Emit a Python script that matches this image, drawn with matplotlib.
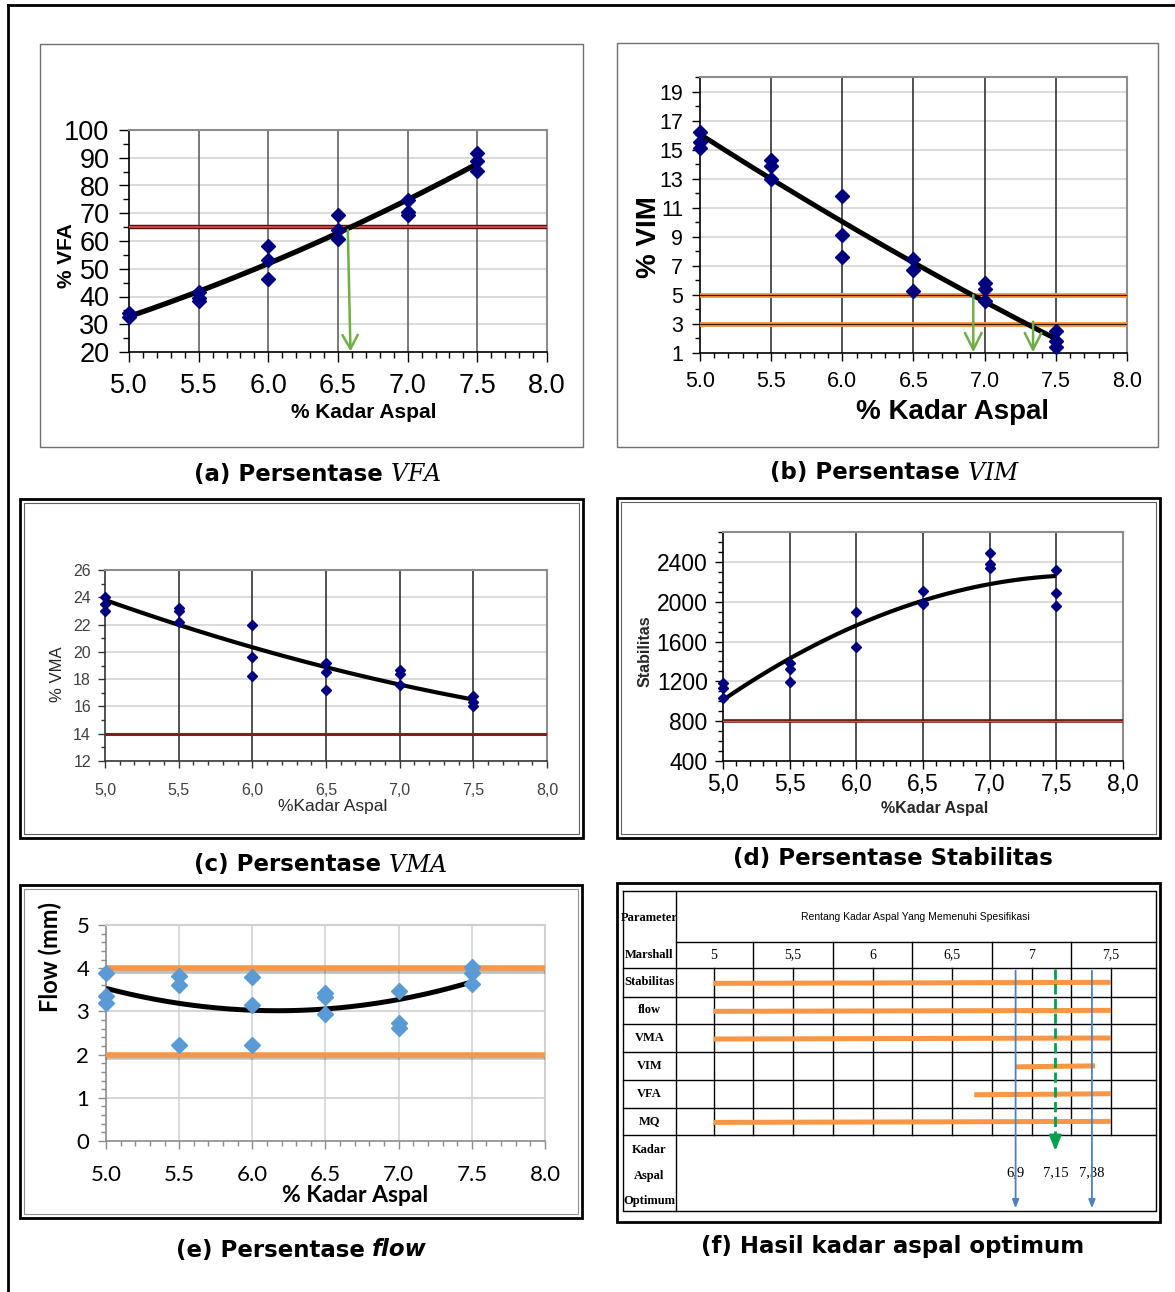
import matplotlib
matplotlib.use("Agg")
import matplotlib.pyplot as plt
import matplotlib.patheffects as pe
import numpy as np
from matplotlib.lines import Line2D
from matplotlib.patches import Rectangle
from matplotlib.ticker import MultipleLocator

plt.rcParams['font.family'] = ['Liberation Sans', 'DejaVu Sans']
plt.rcParams['mathtext.fontset'] = 'dejavuserif'

# ---------------- data ----------------
kadar = [5.0, 5.5, 6.0, 6.5, 7.0, 7.5]
x_ticks = [5.0, 5.5, 6.0, 6.5, 7.0, 7.5, 8.0]

vfa_pts = [[34.2, 32.5], [41.5, 39.3, 38.5], [58.3, 53.3, 46.2],
           [69.5, 64.0, 60.8], [74.7, 70.4, 69.2], [91.6, 88.9, 85.2]]
vfa_trend = [33.0, 41.5, 51.7, 63.2, 75.0, 87.7]
vfa_min = 65
vfa_opt = 6.57

vim_pts = [[16.2, 15.5, 15.1], [14.3, 13.9, 13.0], [11.8, 9.1, 7.6],
           [7.5, 6.7, 5.3], [5.8, 5.4, 4.6], [2.5, 1.8, 1.4]]
vim_trend = [16.0, 13.1, 10.0, 7.2, 4.5, 2.0]
vim_lim = [5, 3]
vim_opt = [6.92, 7.34]

vma_pts = [[24.0, 23.5, 23.0], [23.2, 23.0, 22.2], [22.0, 19.6, 18.2],
           [19.2, 18.5, 17.2], [18.7, 18.4, 17.6], [16.8, 16.3, 16.0]]
vma_trend = [23.8, 22.0, 20.3, 18.9, 17.6, 16.5]
vma_min = 14

stab_pts = [[1180, 1130, 1030], [1380, 1325, 1195], [1900, 1550],
            [2105, 1990, 1980], [2490, 2375, 2335], [2315, 2090, 1960]]
stab_trend = [1010, 1435, 1760, 2010, 2175, 2260]
stab_min = 800

flow_pts = [[3.9, 3.35, 3.2], [3.82, 3.6, 2.23], [3.8, 3.15, 2.22],
            [3.43, 3.33, 2.95], [3.48, 2.72, 2.62], [4.02, 3.89, 3.64]]
flow_trend = [3.52, 3.2, 3.05, 3.04, 3.25, 3.7]
flow_lim = [4, 2]

# table (f)
params = ['Stabilitas', 'flow', 'VMA', 'VIM', 'VFA', 'MQ']
range_start = [5.0, 5.0, 5.0, 6.9, 6.64, 5.0]
range_end = [7.5, 7.5, 7.5, 7.4, 7.5, 7.5]
marshall_vals = [5.0, 5.5, 6.0, 6.5, 7.0, 7.5]
marshall_labels = ['5', '5,5', '6', '6,5', '7', '7,5']
optimum = [6.9, 7.15, 7.38]
optimum_labels = ['6,9', '7,15', '7,38']

# ---------------- figure ----------------
W, H = 1175, 1292
fig = plt.figure(figsize=(W / 100, H / 100), dpi=100)


def frac(r):
    x0, y0, x1, y1 = r
    return [x0 / W, 1 - y1 / H, (x1 - x0) / W, (y1 - y0) / H]


def box(x0, y0, x1, y1, lw=1.0, color='k'):
    fig.add_artist(Rectangle((x0 / W, 1 - y1 / H), (x1 - x0) / W, (y1 - y0) / H,
                             transform=fig.transFigure, fill=False, lw=lw, ec=color))


def at(r, x, y):
    return (x - r[0]) / (r[2] - r[0]), (r[3] - y) / (r[3] - r[1])


def points(pts):
    xs, ys = [], []
    for k, vals in zip(kadar, pts):
        xs += [k] * len(vals)
        ys += vals
    return xs, ys


def trend(ax, vals, lw):
    c = np.polyfit(kadar, vals, 2)
    xs = np.linspace(kadar[0], kadar[-1], 150)
    ax.plot(xs, np.polyval(c, xs), color='k', lw=lw, zorder=4, solid_capstyle='butt')


def setup(ax, ylim, yticks, yminor, vcolor, hcolor, tick_len=7, spine='k', frame='#8c8c8c'):
    ax.set_xlim(5, 8)
    ax.set_ylim(*ylim)
    ax.set_yticks(yticks)
    ax.xaxis.set_major_locator(MultipleLocator(0.5))
    ax.xaxis.set_minor_locator(MultipleLocator(0.1))
    ax.yaxis.set_minor_locator(MultipleLocator(yminor))
    for v in yticks:
        if ylim[0] < v < ylim[1]:
            ax.axhline(v, color=hcolor, lw=1.2, zorder=0)
    for k in kadar[1:]:
        ax.axvline(k, color=vcolor, lw=1.1, zorder=1)
    ax.tick_params(which='major', direction='out', length=tick_len, width=1, color=spine)
    ax.tick_params(which='minor', direction='out', length=tick_len * 0.6, width=1, color=spine)
    for s in ['left', 'bottom']:
        ax.spines[s].set_color(spine)
        ax.spines[s].set_linewidth(1.2)
    for s in ['top', 'right']:
        ax.spines[s].set_color(frame)
        ax.spines[s].set_linewidth(1.5)


green = '#70ad47'

# ---- (a) VFA ----
box(40, 44, 583, 447, lw=1.0, color='#707070')
ra = (129, 130, 547, 352)
ax = fig.add_axes(frac(ra))
setup(ax, (20, 100), list(range(20, 101, 10)), 5, '#555555', '#d4d4d4')
ax.set_xticks(x_ticks, ['%.1f' % v for v in x_ticks])
ax.tick_params(labelsize=19.5, pad=7)
ax.tick_params(axis='x', pad=8)
ax.axhline(vfa_min, color='#5a1010', lw=3.2, zorder=3)
ax.axhline(vfa_min, color='#d9534f', lw=1.2, zorder=3)
x, y = points(vfa_pts)
ax.plot(x, y, 'D', color='#000080', ms=7.5, zorder=5, clip_on=False)
trend(ax, vfa_trend, 3.8)
ax.annotate('', xy=(vfa_opt + 0.02, 19.2), xytext=(vfa_opt, vfa_min), annotation_clip=False,
            arrowprops=dict(arrowstyle='->,head_length=1.0,head_width=0.55', color=green, lw=1.8),
            zorder=6)
ax.set_xlabel('% Kadar Aspal', fontsize=15, fontweight='bold', va='center')
ax.xaxis.set_label_coords(*at(ra, 364, 413))
ax.set_ylabel('% VFA', fontsize=15, fontweight='bold', va='center', ha='center')
ax.yaxis.set_label_coords(*at(ra, 66, 256))

# ---- (b) VIM ----
box(617, 43, 1158, 447, lw=1.0, color='#707070')
rb = (700, 77, 1127, 353)
ax = fig.add_axes(frac(rb))
setup(ax, (1, 20), list(range(1, 20, 2)), 1, '#222222', '#d4d4d4', tick_len=6)
ax.set_xticks(x_ticks, ['%.1f' % v for v in x_ticks])
ax.tick_params(labelsize=15.5, pad=6)
ax.tick_params(axis='x', pad=7)
for v in vim_lim:
    ax.axhline(v, color='#f79646', lw=3.5, zorder=3)
    ax.axhline(v, color='#3a1a00', lw=0.9, zorder=3)
x, y = points(vim_pts)
ax.plot(x, y, 'D', color='#000080', ms=7.5, zorder=5, clip_on=False)
trend(ax, vim_trend, 3.6)
ax.annotate('', xy=(vim_opt[0], 0.85), xytext=(vim_opt[0], vim_lim[0] + 0.2), annotation_clip=False,
            arrowprops=dict(arrowstyle='->,head_length=1.2,head_width=0.6', color=green, lw=1.8),
            zorder=6)
ax.annotate('', xy=(vim_opt[1], 0.85), xytext=(vim_opt[1], vim_lim[1] + 0.35), annotation_clip=False,
            arrowprops=dict(arrowstyle='->,head_length=1.2,head_width=0.6', color=green, lw=1.8),
            zorder=6)
ax.set_xlabel('% Kadar Aspal', fontsize=20, fontweight='bold', va='center')
ax.xaxis.set_label_coords(*at(rb, 952, 412))
ax.set_ylabel('% VIM', fontsize=20, fontweight='bold', va='center', ha='center')
ax.yaxis.set_label_coords(*at(rb, 649, 237))

# ---- (c) VMA ----
box(20, 499, 583, 838, lw=2.0)
box(24, 503, 579, 834, lw=0.8, color='#606060')
rc = (105, 570, 547, 761)
ax = fig.add_axes(frac(rc))
setup(ax, (12, 26), list(range(12, 27, 2)), 1, '#222222', '#d4d4d4', tick_len=5, spine='#333333')
ax.set_xticks(x_ticks, [('%.1f' % v).replace('.', ',') for v in x_ticks])
ax.tick_params(labelsize=11.5, labelcolor='#404040', pad=5)
ax.tick_params(axis='x', pad=11)
ax.axhline(vma_min, color='#8b1a1a', lw=2.2, zorder=3)
x, y = points(vma_pts)
ax.plot(x, y, 'D', color='#000080', ms=5, zorder=5, clip_on=False)
trend(ax, vma_trend, 3.0)
ax.set_xlabel('%Kadar Aspal', fontsize=12.5, color='#262626', va='center')
ax.xaxis.set_label_coords(*at(rc, 333, 806))
ax.set_ylabel('% VMA', fontsize=12, color='#262626', va='center', ha='center')
ax.yaxis.set_label_coords(*at(rc, 58, 674))

# ---- (d) Stabilitas ----
box(617, 498, 1160, 838, lw=2.0)
box(621, 502, 1156, 834, lw=0.8, color='#606060')
rd = (723, 532, 1123, 761)
ax = fig.add_axes(frac(rd))
setup(ax, (400, 2700), list(range(400, 2401, 400)), 100, '#222222', '#d4d4d4', tick_len=6)
ax.set_xticks(x_ticks, [('%.1f' % v).replace('.', ',') for v in x_ticks])
ax.tick_params(labelsize=16.5, pad=5)
ax.tick_params(axis='x', pad=3)
ax.axhline(stab_min, color='#5a1010', lw=2.6, zorder=3)
ax.axhline(stab_min, color='#d9534f', lw=1.0, zorder=3)
x, y = points(stab_pts)
ax.plot(x, y, 'D', color='#000080', ms=5.5, zorder=5, clip_on=False)
trend(ax, stab_trend, 3.0)
ax.set_xlabel('%Kadar Aspal', fontsize=11.5, fontweight='bold', color='#262626', va='center')
ax.xaxis.set_label_coords(*at(rd, 935, 808))
ax.set_ylabel('Stabilitas', fontsize=11.5, fontweight='bold', color='#262626', va='center', ha='center')
ax.yaxis.set_label_coords(*at(rd, 645, 651))

# ---- (e) Flow ----
box(20, 885, 582, 1218, lw=2.0)
box(24, 889, 578, 1214, lw=0.8, color='#909090')
re = (106, 925, 545, 1141)
ax = fig.add_axes(frac(re))
setup(ax, (0, 5), list(range(0, 6)), 0.2, '#d0d0d0', '#d0d0d0', tick_len=6,
      spine='#8c8c8c', frame='#d0d0d0')
ax.set_xticks(x_ticks, ['%.1f' % v for v in x_ticks])
ax.tick_params(labelsize=16, pad=6)
ax.tick_params(axis='x', pad=11)
for lab in ax.get_xticklabels() + ax.get_yticklabels():
    lab.set_family('Lato')
for v in flow_lim:
    ax.axhline(v, xmax=0.995, color='#f79646', lw=4, zorder=3,
               path_effects=[pe.SimpleLineShadow(offset=(0, -2), alpha=0.25), pe.Normal()])
x, y = points(flow_pts)
ax.plot(x, y, 'D', color='#5b9bd5', ms=8, zorder=5, clip_on=False)
trend(ax, flow_trend, 3.6)
ax.set_xlabel('% Kadar Aspal', fontsize=16.5, fontweight='bold', family='Lato', va='center')
ax.xaxis.set_label_coords(*at(re, 355, 1196))
ax.set_ylabel('Flow (mm)', fontsize=17, fontweight='bold', family='Lato', va='center', ha='center')
ax.yaxis.set_label_coords(*at(re, 50, 957))

# ---- (f) table ----
box(617, 883, 1160, 1222, lw=2.0)
rf = (623, 891, 1156, 1211)
scale = 159.0  # px per % kadar in the table
xl = 5.0 - (713.5 - rf[0]) / scale
xr = 7.5 + (rf[2] - 1111) / scale
ax = fig.add_axes(frac(rf))
ax.set_xlim(xl, xr)
ax.set_ylim(rf[3], rf[1])
ax.axis('off')
col1 = xl + (675.5 - rf[0]) / scale
rows = [891, 941.5, 968, 996.7, 1024, 1052, 1079.7, 1107.8, 1135, 1211]
lk = dict(color='k', lw=1.0, clip_on=False)
ax.plot([xl, xr, xr, xl, xl], [rows[0], rows[0], rows[-1], rows[-1], rows[0]], **lk)
ax.plot([col1, col1], [rows[0], rows[-1]], **lk)
ax.plot([col1, xr], [rows[1], rows[1]], **lk)
for yv in rows[2:-1]:
    ax.plot([xl, xr], [yv, yv], **lk)
for xv in [5.25, 5.75, 6.25, 6.75, 7.25]:
    ax.plot([xv, xv], [rows[1], rows[2]], **lk)
for xv in np.arange(5.0, 7.51, 0.25):
    ax.plot([xv, xv], [rows[2], rows[8]], **lk)

serif = dict(family='Liberation Serif', fontweight='bold', ha='center', va='center', fontsize=9)
xc1 = (xl + col1) / 2
ax.text(xc1, 918, 'Parameter', **serif)
ax.text(xc1, 955, 'Marshall', **serif)
ax.text((col1 + xr) / 2, 917, 'Rentang Kadar Aspal Yang Memenuhi Spesifikasi',
        ha='center', va='center', fontsize=7.5, family='Liberation Sans')
for v, t in zip(marshall_vals, marshall_labels):
    ax.text(v, 955, t, family='Liberation Serif', ha='center', va='center', fontsize=10)
for i, name in enumerate(params):
    yc = (rows[i + 2] + rows[i + 3]) / 2
    ax.text(xc1, yc, name, **serif)
    ax.plot([range_start[i], range_end[i]], [yc + 1, yc], color='#f79646', lw=3.6,
            solid_capstyle='butt', zorder=3)
for yv, t in zip([1150, 1176, 1201], ['Kadar', 'Aspal', 'Optimum']):
    ax.text(xc1, yv, t, **serif)
for v in [optimum[0], optimum[2]]:
    ax.annotate('', xy=(v, 1211), xytext=(v, 968), annotation_clip=False,
                arrowprops=dict(arrowstyle='-|>,head_length=0.5,head_width=0.2',
                                color='#4f81bd', lw=1.3), zorder=4)
ax.plot([optimum[1], optimum[1]], [969, 1140], color='#00a050', lw=2, ls='--', zorder=4)
ax.annotate('', xy=(optimum[1], 1154), xytext=(optimum[1], 1138), annotation_clip=False,
            arrowprops=dict(arrowstyle='-|>,head_length=0.9,head_width=0.35',
                            color='#00a050', lw=2), zorder=4)
for v, t in zip(optimum, optimum_labels):
    ax.text(v, 1173, t, family='Liberation Serif', ha='center', va='center', fontsize=10.5)

# ---- captions ----
cap = dict(fontsize=16.5, fontweight='bold', family='DejaVu Sans', va='center')


def caption(x_split, y, left, right=None, right_style=None):
    fig.text(x_split / W, 1 - y / H, left, ha='right', **cap)
    if right:
        st = dict(cap)
        st.update(right_style or {})
        fig.text((x_split + 7) / W, 1 - y / H, right, ha='left', **st)


caption(383, 474, '(a) Persentase', r'$VFA$', {'fontsize': 17})
caption(960, 473, '(b) Persentase', r'$VIM$', {'fontsize': 17})
caption(381, 865, '(c) Persentase', r'$VMA$', {'fontsize': 17})
fig.text(893 / W, 1 - 859 / H, '(d) Persentase Stabilitas', ha='center', **cap)
caption(365, 1250, '(e) Persentase', 'flow', {'style': 'italic'})
fig.text(893 / W, 1 - 1247 / H, '(f) Hasil kadar aspal optimum', ha='center', **cap)

# outer frame
fig.add_artist(Line2D([8 / W, 8 / W], [0, 1 - 5 / H], transform=fig.transFigure, color='k', lw=2))
fig.add_artist(Line2D([8 / W, 1], [1 - 5 / H, 1 - 5 / H], transform=fig.transFigure, color='k', lw=2))

fig.savefig('out.png', dpi=100)
